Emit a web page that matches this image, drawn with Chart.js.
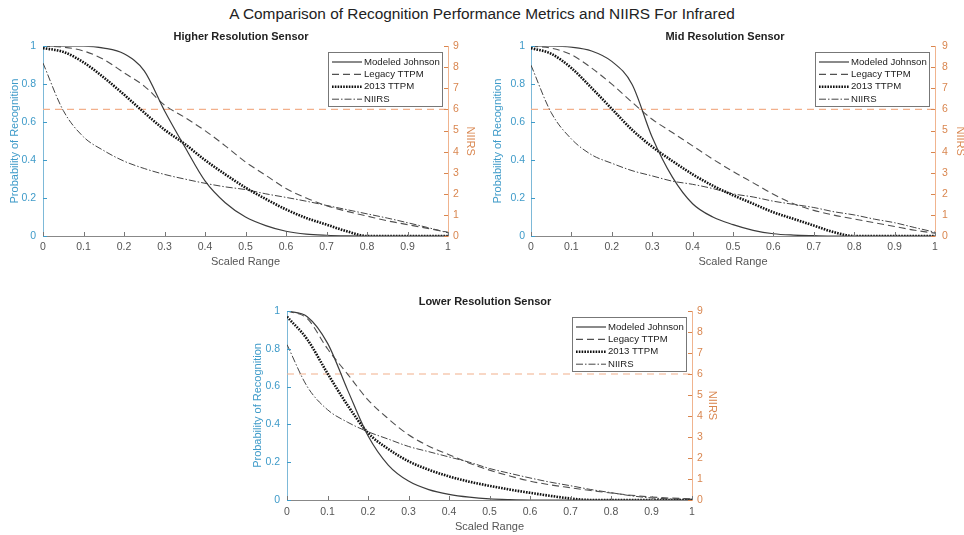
<!DOCTYPE html>
<html>
<head>
<meta charset="utf-8">
<script src="https://cdn.jsdelivr.net/npm/chart.js@4.4.1/dist/chart.umd.min.js"></script>
<style>
  html, body { margin: 0; padding: 0; background: #fff; width: 964px; height: 535px; overflow: hidden; }
  #title { position: absolute; left: 0; top: 5px; width: 964px; text-align: center;
           font: 15.4px "Liberation Sans", Arial, sans-serif; color: #222; }
  .box { position: absolute; }
</style>
</head>
<body>
<div id="title">A Comparison of Recognition Performance Metrics and NIIRS For Infrared</div>
<div class="box" style="left:0px;top:28px;width:482px;height:245px"><canvas id="c1"></canvas></div>
<div class="box" style="left:482px;top:28px;width:486px;height:245px"><canvas id="c2"></canvas></div>
<div class="box" style="left:240px;top:290px;width:490px;height:245px"><canvas id="c3"></canvas></div>
<script>
// x values (scaled range)
const scaledRange = [0, 0.05, 0.1, 0.15, 0.2, 0.25, 0.3, 0.35, 0.4, 0.45, 0.5, 0.55, 0.6, 0.65, 0.7, 0.75, 0.8, 0.85, 0.9, 0.95, 1];
const niirsThreshold = 6;
const seriesNames = ['Modeled Johnson', 'Legacy TTPM', '2013 TTPM', 'NIIRS'];

// higher resolution sensor
const johnsonHigh = [1, 1, 1, 0.99, 0.96, 0.87, 0.66, 0.47, 0.29, 0.175, 0.1, 0.055, 0.025, 0.01, 0.004, 0.001, 0, 0, 0, 0, 0];
const legacyHigh  = [1, 0.995, 0.975, 0.93, 0.86, 0.79, 0.69, 0.625, 0.555, 0.475, 0.39, 0.32, 0.25, 0.2, 0.16, 0.13, 0.105, 0.08, 0.06, 0.04, 0.02];
const ttpmHigh    = [0.99, 0.97, 0.915, 0.835, 0.745, 0.65, 0.56, 0.485, 0.4, 0.325, 0.255, 0.195, 0.14, 0.095, 0.06, 0.025, 0, 0, 0, 0, 0];
const niirsHigh   = [8.2, 5.95, 4.7, 4.05, 3.55, 3.2, 2.92, 2.7, 2.5, 2.33, 2.2, 2.0, 1.83, 1.65, 1.45, 1.25, 1.05, 0.85, 0.63, 0.4, 0.15];

// mid resolution sensor
const johnsonMid = [1, 1, 0.995, 0.975, 0.92, 0.8, 0.52, 0.31, 0.17, 0.1, 0.06, 0.03, 0.012, 0.005, 0.002, 0, 0, 0, 0, 0, 0];
const legacyMid  = [1, 0.99, 0.955, 0.885, 0.8, 0.705, 0.615, 0.545, 0.475, 0.405, 0.34, 0.28, 0.22, 0.17, 0.135, 0.11, 0.09, 0.07, 0.05, 0.03, 0.015];
const ttpmMid    = [0.99, 0.96, 0.885, 0.78, 0.67, 0.56, 0.47, 0.395, 0.325, 0.265, 0.215, 0.17, 0.125, 0.09, 0.055, 0.02, 0, 0, 0, 0, 0];
const niirsMid   = [8.1, 5.85, 4.6, 3.85, 3.45, 3.1, 2.85, 2.6, 2.45, 2.25, 2.0, 1.85, 1.65, 1.5, 1.35, 1.15, 1.0, 0.8, 0.63, 0.4, 0.18];

// lower resolution sensor
const johnsonLow = [1, 0.97, 0.83, 0.58, 0.34, 0.185, 0.1, 0.055, 0.03, 0.015, 0.006, 0.002, 0, 0, 0, 0, 0, 0, 0, 0, 0];
const legacyLow  = [1, 0.96, 0.8, 0.665, 0.53, 0.43, 0.345, 0.285, 0.24, 0.195, 0.158, 0.127, 0.1, 0.08, 0.065, 0.05, 0.037, 0.025, 0.016, 0.01, 0.006];
const ttpmLow    = [0.97, 0.85, 0.67, 0.5, 0.355, 0.27, 0.205, 0.16, 0.125, 0.097, 0.075, 0.055, 0.038, 0.022, 0.008, 0, 0, 0, 0, 0, 0];
const niirsLow   = [7.4, 5.4, 4.3, 3.7, 3.25, 2.9, 2.55, 2.3, 2.05, 1.8, 1.5, 1.27, 1.05, 0.85, 0.68, 0.5, 0.35, 0.2, 0.1, 0.05, 0.03];

const FONT = '"Liberation Sans", Arial, sans-serif';
const BLUE = '#3f9bc9';
const ORANGE = '#d9864f';

const pairs = arr => scaledRange.map((r, i) => ({x: r, y: arr[i]}));

// box legend in the top right of the plot
const boxLegend = {
  id: 'boxLegend',
  afterDraw(chart) {
    const {ctx, chartArea: a} = chart;
    const items = chart.data.datasets.filter(d => d.label);
    const w = 114, h = 54;
    const x0 = Math.round(a.right - 6 - w), y0 = Math.round(a.top + 6);
    ctx.save();
    ctx.fillStyle = '#fff';
    ctx.fillRect(x0, y0, w, h);
    ctx.strokeStyle = '#777';
    ctx.lineWidth = 1;
    ctx.strokeRect(x0 + 0.5, y0 + 0.5, w, h);
    items.forEach((d, i) => {
      const y = y0 + 10 + i * 12.4;
      ctx.setLineDash(d.borderDash || []);
      ctx.strokeStyle = d.borderColor;
      ctx.lineWidth = d.borderWidth;
      ctx.beginPath();
      ctx.moveTo(x0 + 4, y);
      ctx.lineTo(x0 + 34, y);
      ctx.stroke();
      ctx.setLineDash([]);
      ctx.fillStyle = '#222';
      ctx.font = '9.6px ' + FONT;
      ctx.textBaseline = 'middle';
      ctx.fillText(d.label, x0 + 36, y);
    });
    ctx.restore();
  }
};

// matlab style ticks pointing into the plot
const innerTicks = {
  id: 'innerTicks',
  afterDatasetsDraw(chart) {
    const {ctx, chartArea: a, scales} = chart;
    ctx.save();
    ctx.lineWidth = 1;
    ctx.strokeStyle = '#777';
    scales.x.ticks.forEach(t => {
      const p = Math.round(scales.x.getPixelForValue(t.value)) + 0.5;
      ctx.beginPath(); ctx.moveTo(p, a.bottom); ctx.lineTo(p, a.bottom - 4); ctx.stroke();
    });
    ctx.strokeStyle = BLUE;
    scales.y.ticks.forEach(t => {
      const p = Math.round(scales.y.getPixelForValue(t.value)) + 0.5;
      ctx.beginPath(); ctx.moveTo(a.left, p); ctx.lineTo(a.left + 4, p); ctx.stroke();
    });
    ctx.strokeStyle = ORANGE;
    scales.y2.ticks.forEach(t => {
      const p = Math.round(scales.y2.getPixelForValue(t.value)) + 0.5;
      ctx.beginPath(); ctx.moveTo(a.right, p); ctx.lineTo(a.right - 4, p); ctx.stroke();
    });
    ctx.restore();
  }
};

function makeChart(id, title, johnson, legacy, ttpm, niirs, L) {
  const ctx = document.getElementById(id).getContext('2d');
  return new Chart(ctx, {
    type: 'line',
    data: {
      datasets: [
        {label: seriesNames[0], data: pairs(johnson), yAxisID: 'y',
         borderColor: '#3c3c3c', borderWidth: 1.2, borderDash: []},
        {label: seriesNames[1], data: pairs(legacy), yAxisID: 'y',
         borderColor: '#505050', borderWidth: 1.1, borderDash: [7, 4]},
        {label: seriesNames[2], data: pairs(ttpm), yAxisID: 'y',
         borderColor: '#111', borderWidth: 2.6, borderDash: [1.6, 1.2]},
        {label: seriesNames[3], data: pairs(niirs), yAxisID: 'y2',
         borderColor: '#444', borderWidth: 1, borderDash: [7, 2, 1.5, 2]},
        {label: '', data: [{x: 0, y: niirsThreshold}, {x: 1, y: niirsThreshold}], yAxisID: 'y2',
         borderColor: '#f2b08c', borderWidth: 1.2, borderDash: [7, 5]}
      ]
    },
    options: {
      responsive: true,
      maintainAspectRatio: false,
      animation: false,
      layout: {padding: 0},
      elements: {
        point: {radius: 0},
        line: {cubicInterpolationMode: 'monotone', fill: false}
      },
      plugins: {
        legend: {display: false},
        tooltip: {enabled: false},
        title: {
          display: true, text: title, color: '#222',
          font: {family: FONT, size: 11, weight: 'bold'},
          padding: L.titlePad
        }
      },
      scales: {
        x: {
          type: 'linear', min: 0, max: 1,
          afterFit: s => { s.height = L.xH; },
          grid: {display: false, drawTicks: false},
          border: {display: true, color: '#888', width: 1},
          ticks: {stepSize: 0.1, padding: L.xTickPad, color: '#555', maxRotation: 0,
                  font: {family: FONT, size: 10.5},
                  callback: v => String(+v.toFixed(1))},
          title: {display: true, text: 'Scaled Range', color: '#555',
                  font: {family: FONT, size: 11}, padding: {top: 0, bottom: L.xTitlePad}}
        },
        y: {
          position: 'left', min: 0, max: 1,
          afterFit: s => { s.width = L.yW; },
          grid: {display: false, drawTicks: false},
          border: {display: true, color: '#7db9d8', width: 1},
          ticks: {stepSize: 0.2, padding: L.yTickPad, color: BLUE,
                  font: {family: FONT, size: 10.5},
                  callback: v => String(+v.toFixed(1))},
          title: {display: true, text: 'Probability of Recognition', color: BLUE,
                  font: {family: FONT, size: 11}, padding: {top: L.yTitlePad, bottom: 0}}
        },
        y2: {
          position: 'right', min: 0, max: 9,
          afterFit: s => { s.width = L.y2W; },
          grid: {display: false, drawTicks: false},
          border: {display: true, color: '#f0b48f', width: 1},
          ticks: {stepSize: 1, padding: L.y2TickPad, color: ORANGE,
                  font: {family: FONT, size: 10.5}},
          title: {display: true, text: 'NIIRS', color: ORANGE,
                  font: {family: FONT, size: 11}, padding: {top: L.y2TitlePad, bottom: 0}}
        }
      }
    },
    plugins: [innerTicks, boxLegend]
  });
}

makeChart('c1', 'Higher Resolution Sensor', johnsonHigh, legacyHigh, ttpmHigh, niirsHigh, {
  titlePad: {top: 2, bottom: 3}, xH: 37, xTickPad: 5, xTitlePad: 4.7,
  yW: 43, yTickPad: 7, yTitlePad: 8.4, y2W: 34, y2TickPad: 5, y2TitlePad: 5.4
});
makeChart('c2', 'Mid Resolution Sensor', johnsonMid, legacyMid, ttpmMid, niirsMid, {
  titlePad: {top: 2, bottom: 3}, xH: 37, xTickPad: 5, xTitlePad: 4.7,
  yW: 49, yTickPad: 6, yTitlePad: 9.4, y2W: 33, y2TickPad: 7, y2TitlePad: 1.4
});
makeChart('c3', 'Lower Resolution Sensor', johnsonLow, legacyLow, ttpmLow, niirsLow, {
  titlePad: {top: 5.4, bottom: 2.4}, xH: 35, xTickPad: 6, xTitlePad: 1.4,
  yW: 47, yTickPad: 7, yTitlePad: 11.4, y2W: 38, y2TickPad: 5, y2TitlePad: 11.4
});
</script>
</body>
</html>
